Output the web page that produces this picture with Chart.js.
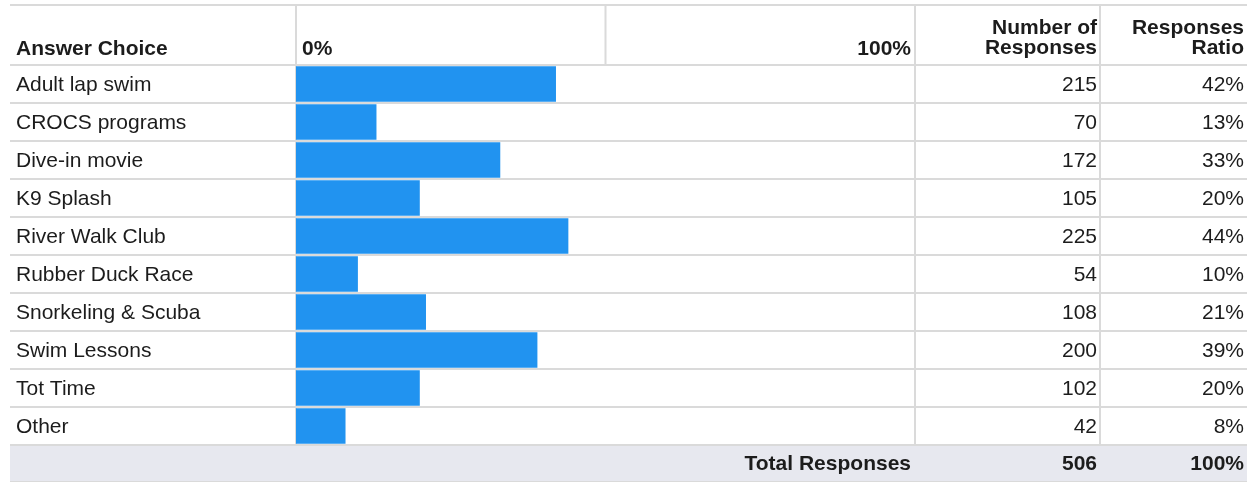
<!DOCTYPE html>
<html>
<head>
<meta charset="utf-8">
<script src="https://cdn.jsdelivr.net/npm/chart.js@4.4.1/dist/chart.umd.min.js"></script>
<style>
  html, body { margin: 0; padding: 0; background: #fff; }
  #chart { position: relative; width: 1251px; height: 482px; }
</style>
</head>
<body>
<div id="chart"><canvas id="c"></canvas></div>
<script>
const categories = [
  "Adult lap swim", "CROCS programs", "Dive-in movie", "K9 Splash",
  "River Walk Club", "Rubber Duck Race", "Snorkeling & Scuba",
  "Swim Lessons", "Tot Time", "Other"
];
const counts = [215, 70, 172, 105, 225, 54, 108, 200, 102, 42];
const ratios = [42, 13, 33, 20, 44, 10, 21, 39, 20, 8];
const axisTicks = ["0%", "100%"];
const totalLabel = "Total Responses";
const totalCount = 506;
const totalRatio = "100%";

const FONT = '"Liberation Sans", Arial, Helvetica, sans-serif';
const LINE = "#dadada";
const TEXT = "#1c1c1c";

const tableGrid = {
  id: "tableGrid",
  beforeDatasetsDraw(chart) {
    const { ctx, chartArea: ca, scales } = chart;
    const x = scales.x, y = scales.y;
    const rowH = y.getPixelForValue(1) - y.getPixelForValue(0);
    const left = 10, right = 1247, top = 5;
    const numX = ca.right + 185;

    // total row background
    ctx.save();
    ctx.fillStyle = "#e7e8ef";
    ctx.fillRect(left, ca.bottom, right - left, rowH - 2);

    ctx.strokeStyle = LINE;
    ctx.lineWidth = 2;
    ctx.beginPath();
    ctx.moveTo(left, top); ctx.lineTo(right, top);
    for (let i = 0; i <= categories.length; i++) {
      const yy = ca.top + i * rowH;
      ctx.moveTo(left, yy); ctx.lineTo(right, yy);
    }
    ctx.moveTo(left, ca.bottom + rowH - 1); ctx.lineTo(right, ca.bottom + rowH - 1);
    [x.getPixelForValue(0), x.getPixelForValue(100), numX].forEach((xx) => {
      ctx.moveTo(xx, top); ctx.lineTo(xx, ca.bottom);
    });
    ctx.moveTo(x.getPixelForValue(50), top); ctx.lineTo(x.getPixelForValue(50), ca.top);
    ctx.stroke();
    ctx.restore();
  },
  afterDatasetsDraw(chart) {
    const { ctx, chartArea: ca, scales } = chart;
    const x = scales.x, y = scales.y;
    const rowH = y.getPixelForValue(1) - y.getPixelForValue(0);
    const numRight = ca.right + 182;
    const ratioRight = 1244;
    const hb = ca.top - 10;

    ctx.save();
    ctx.fillStyle = TEXT;
    ctx.textBaseline = "alphabetic";
    ctx.font = "bold 21px " + FONT;
    ctx.textAlign = "left";
    ctx.fillText("Answer Choice", 16, hb);
    ctx.fillText(axisTicks[0], x.getPixelForValue(0) + 6, hb);
    ctx.textAlign = "right";
    ctx.fillText(axisTicks[1], x.getPixelForValue(100) - 4, hb);
    ctx.fillText("Number of", numRight, hb - 21);
    ctx.fillText("Responses", numRight, hb - 1);
    ctx.fillText("Responses", ratioRight, hb - 21);
    ctx.fillText("Ratio", ratioRight, hb - 1);

    ctx.textBaseline = "middle";
    ctx.font = "21px " + FONT;
    categories.forEach((c, i) => {
      const yy = y.getPixelForValue(i) + 1;
      ctx.textAlign = "left";
      ctx.fillText(c, 16, yy);
      ctx.textAlign = "right";
      ctx.fillText(String(counts[i]), numRight, yy);
      ctx.fillText(ratios[i] + "%", ratioRight, yy);
    });

    const ty = ca.bottom + rowH / 2;
    ctx.font = "bold 21px " + FONT;
    ctx.fillText(totalLabel, x.getPixelForValue(100) - 4, ty);
    ctx.fillText(String(totalCount), numRight, ty);
    ctx.fillText(totalRatio, ratioRight, ty);
    ctx.restore();
  }
};

new Chart(document.getElementById("c"), {
  type: "bar",
  data: {
    labels: categories,
    datasets: [{
      data: ratios,
      backgroundColor: "#2193f0",
      borderWidth: 0,
      categoryPercentage: 1,
      barPercentage: 0.94
    }]
  },
  options: {
    indexAxis: "y",
    responsive: true,
    maintainAspectRatio: false,
    animation: false,
    layout: { padding: { left: 296, right: 336, top: 65, bottom: 37 } },
    plugins: { legend: { display: false }, tooltip: { enabled: false } },
    scales: {
      x: { display: false, min: 0, max: 100 },
      y: { display: false }
    }
  },
  plugins: [tableGrid]
});
</script>
</body>
</html>
